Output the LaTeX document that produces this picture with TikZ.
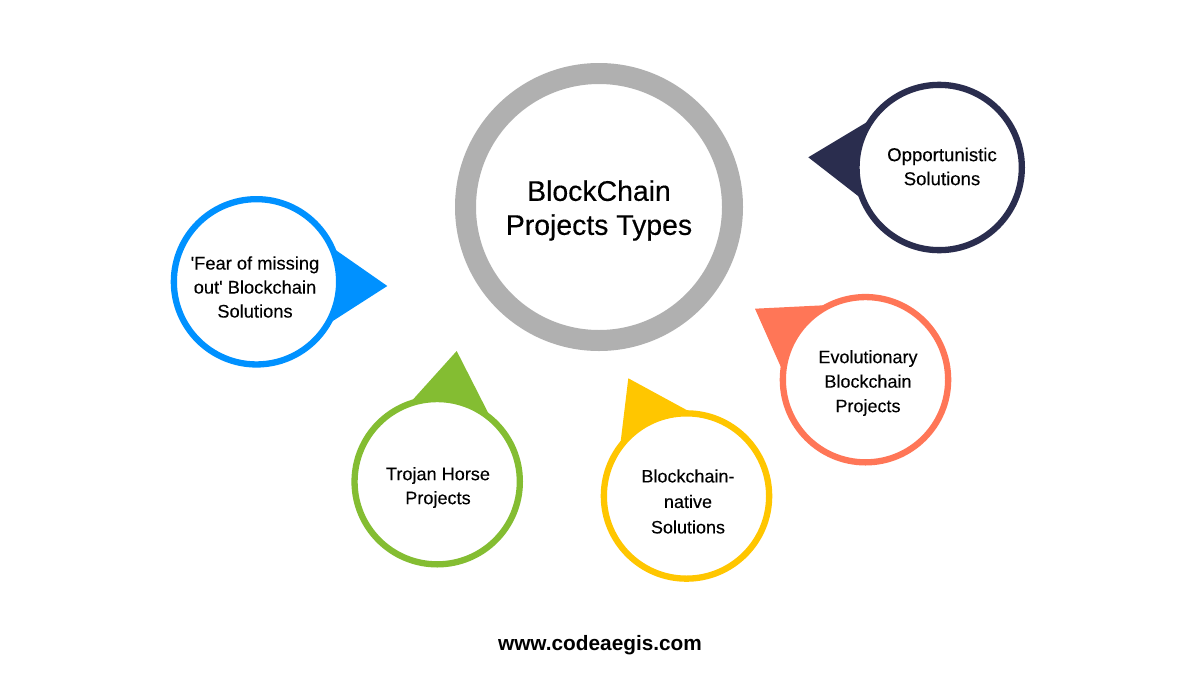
\documentclass[tikz,border=0pt]{standalone}
\usepackage{fontspec}
\setmainfont{Liberation Sans}
\newfontfamily\medfont[FakeBold=0.12]{Liberation Sans}
\newfontfamily\hubfont[FakeBold=0.3]{Liberation Sans}
\definecolor{cnavy}{HTML}{2A2D4E}
\definecolor{corange}{HTML}{FF7657}
\definecolor{cyellow}{HTML}{FFC600}
\definecolor{cgreen}{HTML}{84BD32}
\definecolor{cblue}{HTML}{0091FF}
\definecolor{cgrey}{HTML}{B0B0B0}
\begin{document}
\begin{tikzpicture}[x=1pt,y=-1pt,
 lab/.style={align=center,text=black,inner sep=0pt},
 bub/.style={circle,fill=white,line width=6.3pt,minimum size=165.3pt,inner sep=0pt}]
\useasboundingbox (0,0) rectangle (1200,675);
\fill[white] (0,0) rectangle (1200,675);
% pointers
\fill[cnavy] (808.3,157.3) -- (874.6,117.5) -- (868,203.7) -- cycle;
\fill[corange] (755,308.7) -- (829.5,305) -- (783.3,372.5) -- cycle;
\fill[cyellow] (628.3,378.3) -- (692.5,413.2) -- (619.9,448) -- cycle;
\fill[cgreen] (456.7,351) -- (410.8,401.9) -- (489.7,415.9) -- cycle;
\fill[cblue] (387.3,286) -- (330.5,246.4) -- (326.1,325.3) -- cycle;
% circles
\node[circle,fill=white,draw=cgrey,line width=21pt,minimum size=267pt,inner sep=0pt] (hub) at (599,207) {};
\node[lab,font=\fontsize{28.4}{34}\selectfont\hubfont] (hubt) at (599,210.5) {BlockChain\\Projects Types};
\node[bub,draw=cnavy] (a) at (939.2,167.5) {};
\node[bub,draw=corange] (b) at (865.5,379.7) {};
\node[bub,draw=cyellow] (c) at (686.5,496) {};
\node[bub,draw=cgreen] (d) at (437.2,481.7) {};
\node[bub,draw=cblue] (e) at (256.5,281.8) {};
\node[lab,font=\fontsize{18.6}{24}\selectfont\medfont] (at) at (942,166.5) {Opportunistic\\Solutions};
\node[lab,font=\fontsize{18}{24.5}\selectfont\medfont] (bt) at (868,383) {Evolutionary\\Blockchain\\Projects};
\node[lab,font=\fontsize{18}{25.5}\selectfont\medfont] (ct) at (688,501.5) {Blockchain-\\native\\Solutions};
\node[lab,font=\fontsize{18.1}{24}\selectfont\medfont] (dt) at (438,487.5) {Trojan Horse\\Projects};
\node[lab,font=\fontsize{18.3}{24}\selectfont\medfont] (et) at (255,287) {'Fear of missing\\out' Blockchain\\Solutions};
\node[lab,font=\fontsize{20.8}{25}\selectfont\bfseries] (url) at (600,645) {www.codeaegis.com};
\end{tikzpicture}
\end{document}
